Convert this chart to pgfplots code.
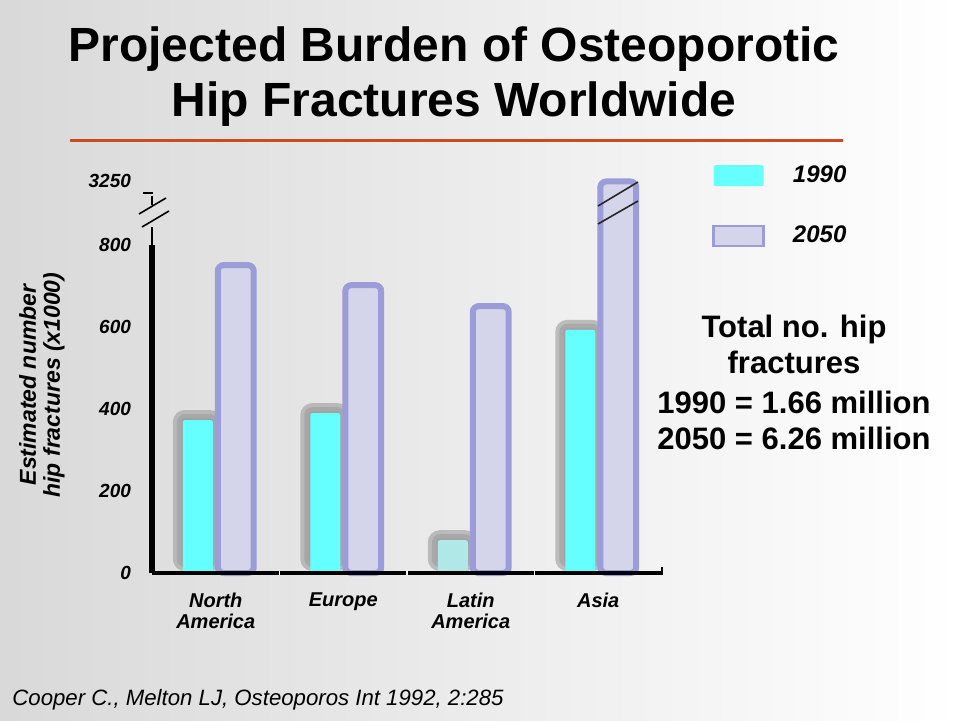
\documentclass[border=0pt]{standalone}
\usepackage{pgfplots}
\usepackage{pgfplotstable}
\pgfplotsset{compat=1.18}
\usepackage{fontspec}
\setmainfont{Liberation Sans}
\definecolor{cyanbar}{HTML}{66FFFF}
\definecolor{labar}{HTML}{B0E8E8}
\definecolor{bord}{HTML}{9C9CD8}
\definecolor{lavfill}{HTML}{D4D4EA}
\definecolor{titlerule}{HTML}{CC4A1F}

% 1990 values (x1000)
\pgfplotstableread{
x y
0 373
1 390
3 593
}\dataA
\pgfplotstableread{
x y
2 80
}\dataLA
% 2050 values (x1000)
\pgfplotstableread{
x y
0 751
1 702
2 651
3 3250
}\dataB

\begin{document}
\begin{tikzpicture}[x=0.5pt,y=0.5pt]
\shade[left color=black!15, right color=white] (0,0) rectangle (960,720);
% title
\node[font=\bfseries\fontsize{24}{27.5}\selectfont, align=center] at (454,643) {Projected Burden of Osteoporotic\\Hip Fractures Worldwide};
\draw[titlerule, line width=1.5pt] (70,580) -- (843,580);

\begin{axis}[
  at={(76pt,73.5pt)}, anchor=south west,
  scale only axis, width=255pt, height=205pt,
  xmin=-0.5, xmax=3.5, ymin=0, ymax=3961,
  y coord trafo/.code={\pgfmathparse{ifthenelse(#1>800,800+(#1-800)*0.063265,#1)}},
  y coord inv trafo/.code={\pgfmathparse{ifthenelse(#1>800,800+(#1-800)/0.063265,#1)}},
  axis line style={draw=none}, major tick length=0pt,
  clip=false,
  xtick={0,1,2,3},
  xticklabels={North\\America, Europe, Latin\\America, Asia},
  xticklabel style={align=center, anchor=north, yshift=-6.5pt,
    font=\bfseries\itshape\fontsize{10}{10.5}\selectfont},
  ytick={0,200,400,600,800,3250},
  yticklabels={0,200,400,600,800,3250},
  yticklabel style={anchor=east, xshift=-7pt,
    font=\bfseries\itshape\fontsize{9.5}{11}\selectfont},
  legend style={at={(1.098,1.005)}, anchor=north west, draw=none, fill=none,
    font=\bfseries\itshape\fontsize{12}{14}\selectfont, row sep=16.5pt,
    column sep=12pt, inner sep=0pt},
  legend cell align=left,
]
% shadows of the 1990 bars
\addplot[ybar, bar width=0.32, bar shift=-0.145, yshift=3pt,
  fill=black!45, draw=black!33, line width=4pt, rounded corners=4pt,
  opacity=0.75, forget plot] table[x=x,y=y] {\dataA};
\addplot[ybar, bar width=0.32, bar shift=-0.145, yshift=3pt,
  fill=black!45, draw=black!33, line width=4pt, rounded corners=4pt,
  opacity=0.75, forget plot] table[x=x,y=y] {\dataLA};
% 1990 bars
\addplot[ybar, bar width=0.235, bar shift=-0.141, fill=cyanbar, draw=none,
  rounded corners=1pt,
  legend image code/.code={\fill[cyanbar] (0pt,-5.5pt) rectangle (25pt,5pt);}]
  table[x=x,y=y] {\dataA};
\addlegendentry{1990}
\addplot[ybar, bar width=0.235, bar shift=-0.141, fill=labar, draw=none,
  rounded corners=1pt, forget plot]
  table[x=x,y=y] {\dataLA};
% 2050 bars
\addplot[ybar, bar width=0.282, bar shift=0.157, draw=bord, line width=3pt,
  rounded corners=3pt, fill=lavfill,
  legend image code/.code={\draw[line width=1.3pt, rounded corners=0pt] (0pt,-5pt) rectangle (25pt,5pt);}]
  table[x=x,y=y] {\dataB};
\addlegendentry{2050}
% axis lines
\draw[line width=3pt] (axis cs:-0.5,0) -- (axis cs:-0.5,800);
\draw[line width=2pt] (axis cs:-0.5,0) -- (axis cs:3.5,0);
\pgfplotsinvokeforeach{0.5,1.5,2.5}{
  \draw[white, line width=0.8pt] ([yshift=-1.2pt]axis cs:#1,0) -- ([yshift=1.2pt]axis cs:#1,0);}
\draw[line width=1pt] ([yshift=-1pt]axis cs:3.5,0) -- ([yshift=3pt]axis cs:3.5,0);
\end{axis}

% axis break on the y axis
\draw[line width=0.7pt] (152,475) -- (152,493);
\draw[line width=0.7pt] (152,515) -- (152,524);
\draw[line width=0.6pt] (143,527) -- (153,527);
\draw[line width=0.8pt] (139,506) -- (166,522);
\draw[line width=0.8pt] (142,493) -- (169,509);
% break marks on the Asia 2050 bar
\draw[line width=0.8pt, black!85] (598,514) -- (638,538);
\draw[line width=0.8pt, black!85] (598,496) -- (638,519);

% y label
\node[rotate=90, align=center, font=\bfseries\itshape\fontsize{11.5}{12}\selectfont] at (42,335) {Estimated number\\hip fractures (x1000)};

% totals
\node[align=center, font=\bfseries\fontsize{15.5}{18}\selectfont] at (794,338) {Total no. hip\\fractures\\[2pt]1990 = 1.66 million\\2050 = 6.26 million};

% source
\node[anchor=west, font=\itshape\fontsize{11.1}{12}\selectfont, inner sep=0pt] at (12,20) {Cooper C., Melton LJ, Osteoporos Int 1992, 2:285};
\end{tikzpicture}
\end{document}
